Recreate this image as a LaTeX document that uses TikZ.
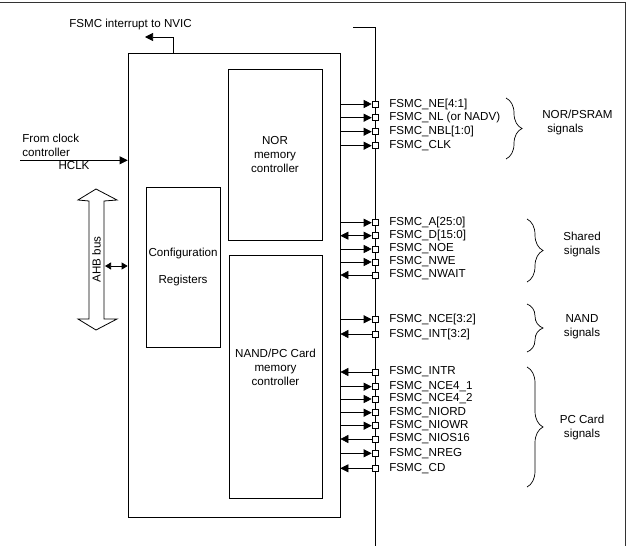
\documentclass[tikz,border=0pt]{standalone}
\usepackage{fontspec}
\setmainfont{Liberation Sans}
\usetikzlibrary{arrows.meta,decorations.pathreplacing}

\tikzset{
  box/.style={draw, line width=0.7pt, inner sep=0pt},
  pinsq/.style={draw, fill=white, line width=0.6pt, minimum size=6pt, inner sep=0pt},
  sigtxt/.style={anchor=west, inner sep=0pt},
  sigout/.style={-{Triangle[length=8pt,width=8pt]}},
  sigin/.style={{Triangle[length=8pt,width=8pt]}-},
  sigboth/.style={{Triangle[length=8pt,width=8pt]}-{Triangle[length=8pt,width=8pt]}},
  grp/.style={decorate, decoration={brace, amplitude=16pt}, line width=0.7pt},
}

\begin{document}
\begin{tikzpicture}[x=1pt, y=-1pt, line width=0.7pt,
    font=\fontsize{11.6}{14}\selectfont]
  \useasboundingbox (0,0) rectangle (629,546);

  % Rahmen
  \draw[black!80, line width=1pt] (0,2) -- (625,2) -- (625,546);

  % FSMC-Block und Controller
  \node[box, minimum width=212pt, minimum height=464pt] (fsmc) at (234,285) {};
  \node[box, minimum width=94pt, minimum height=171pt, align=center]
    (nor) at (275,154.5) {NOR\\memory\\controller};
  \node[box, minimum width=74pt, minimum height=160pt, align=center]
    (cfg) at (183,267) {Configuration\\[13pt]Registers};
  \node[box, minimum width=93pt, minimum height=243pt] (nand) at (275.5,376.5) {};
  \node[align=center, inner sep=0pt] (nandtxt) at ([yshift=9pt]nand.center)
    {NAND/PC Card\\memory\\controller};

  % Interrupt
  \coordinate (irq) at (145,37);
  \draw[sigout] ([xshift=46pt]fsmc.north west) |- (irq);
  \node (irqtxt) at (130.5,24.7) {FSMC interrupt to NVIC};

  % Takt
  \coordinate (clk) at (20,160.3);
  \draw[sigout] (clk) -- (fsmc.west |- clk);
  \node[anchor=west, align=left, inner sep=0pt] (clktxt) at (22,145.5)
    {From clock\\controller};
  \node (hclk) at (74,166) {HCLK};

  % AHB-Bus
  \draw[line width=0.8pt] (96,189) -- (117,200) -- (104,201) -- (104,319)
    -- (117,319) -- (96,330) -- (78,319) -- (89,319) -- (89,201)
    -- (78,200) -- cycle;
  \node[rotate=90, inner sep=0pt] (ahb) at (96.5,259.5) {AHB bus};
  \coordinate (ahbport) at (105,266);
  \draw[{Triangle[length=6pt,width=7pt]}-{Triangle[length=6pt,width=7pt]}]
    (ahbport) -- (fsmc.west |- ahbport);

  % Signalleitung
  \coordinate (bustop) at (353,27);
  \draw (bustop) -- (375,27) -- (375,546);

  % Signale
  \foreach \y/\nm/\dir [count=\i] in {
      104/FSMC\_NE[4:1]/sigout, 117.7/FSMC\_NL (or NADV)/sigout,
      131.7/FSMC\_NBL[1:0]/sigout, 145.7/FSMC\_CLK/sigout,
      222.7/FSMC\_A[25:0]/sigout, 235.7/FSMC\_D[15:0]/sigboth,
      249/FSMC\_NOE/sigout, 262/FSMC\_NWE/sigout, 275/FSMC\_NWAIT/sigin,
      319.3/FSMC\_NCE[3:2]/sigout, 334/FSMC\_INT[3:2]/sigin,
      372/FSMC\_INTR/sigin, 386.7/FSMC\_NCE4\_1/sigout,
      399/FSMC\_NCE4\_2/sigout, 412.7/FSMC\_NIORD/sigout,
      425.7/FSMC\_NIOWR/sigout, 439/FSMC\_NIOS16/sigin,
      453.3/FSMC\_NREG/sigout, 468.3/FSMC\_CD/sigin} {
    \node[pinsq] (sq\i) at (375,\y) {};
    \draw[\dir] (fsmc.east |- sq\i) -- (sq\i.west);
    \node[sigtxt] (t\i) at (389,\y) {\nm};
  }

  % Gruppen
  \draw[grp] (506,98) -- (506,159);
  \node[anchor=west, align=left, inner sep=0pt] (gnor) at (542,122.5)
    {NOR/PSRAM\\\hspace*{5pt}signals};
  \draw[grp] (527,219) -- (527,282);
  \node[align=center, inner sep=0pt] (gshared) at (582,244) {Shared\\signals};
  \draw[grp] (527,304) -- (527,352);
  \node[align=center, inner sep=0pt] (gnand) at (582,327) {NAND\\signals};
  \draw[grp] (527,367) -- (527,487);
  \node[align=center, inner sep=0pt] (gpc) at (582,427.5) {PC Card\\signals};
\end{tikzpicture}
\end{document}
